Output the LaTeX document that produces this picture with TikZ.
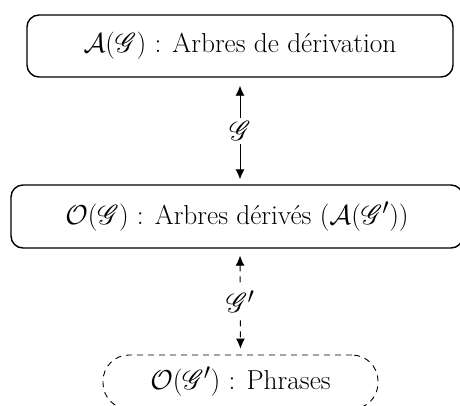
\documentclass[tikz,border=0pt]{standalone}
\usepackage{mathrsfs}
\usepackage{graphicx}
\usetikzlibrary{arrows.meta}
\newcommand{\grand}[1]{\scalebox{1.1}{\Huge #1}}
\begin{document}
\begin{tikzpicture}[x=1pt, y=-1pt,
    boite/.style={draw, line width=1.4pt, rounded corners=12pt, inner sep=0pt},
    fleche/.style={line width=0.9pt, {Latex[length=10pt,width=9pt]}-{Latex[length=10pt,width=9pt]}},
    etiq/.style={fill=white, inner sep=3pt}]
    \useasboundingbox (0,0) rectangle (460,405);
    \node[boite, minimum width=426pt, minimum height=62pt] (A) at (240,46) {\grand{$\mathcal{A}(\mathscr{G})$ : Arbres de dérivation}};
    \node[boite, minimum width=452pt, minimum height=63pt] (O) at (237,216.5) {\grand{$\mathcal{O}(\mathscr{G})$ : Arbres dérivés ($\mathcal{A}(\mathscr{G}')$)}};
    \node[boite, dashed, dash pattern=on 6pt off 5pt, line width=0.9pt, rounded corners=26pt, minimum width=275pt, minimum height=54pt] (P) at (240.5,382) {\grand{$\mathcal{O}(\mathscr{G}')$ : Phrases}};
    \draw[fleche, shorten <=8pt, shorten >=5pt] (A.south -| 240,0) -- node[etiq] {\grand{$\mathscr{G}$}} (O.north -| 240,0);
    \draw[fleche, dashed, dash pattern=on 6pt off 5pt, shorten <=7pt, shorten >=6pt] (O.south -| 240,0) -- node[etiq] {\grand{$\mathscr{G}'$}} (P.north);% Phrases
\end{tikzpicture}
\end{document}
